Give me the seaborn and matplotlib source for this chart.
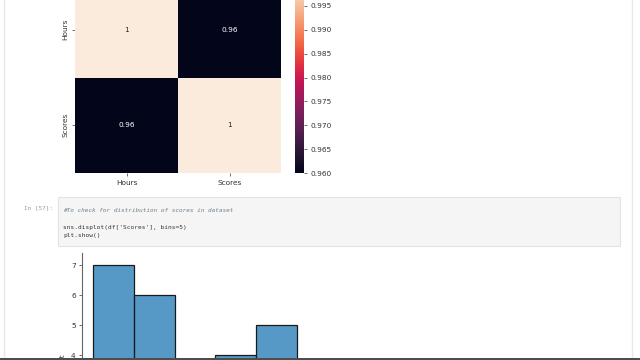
import numpy as np
import pandas as pd
import seaborn as sns
import matplotlib
matplotlib.use("Agg")
import matplotlib.pyplot as plt
from matplotlib.patches import Rectangle
from matplotlib.lines import Line2D

# ---- data ----
corr_labels = ["Hours", "Scores"]
corr_hours = [1.0, 0.9601]
corr_scores = [0.9601, 1.0]

hist_bin_edges = [17.0, 32.6, 48.2, 63.8, 79.4, 95.0]
hist_counts = [7, 6, 3, 4, 5]
hist_yticks = [4, 5, 6, 7]

cbar_ticks = [0.960, 0.965, 0.970, 0.975, 0.980, 0.985, 0.990, 0.995]

cell_prompt = "In [57]:"
code_comment = "#To check for distribution of scores in dataset"
code_lines = ["sns.displot(df['Scores'], bins=5)", "plt.show()"]

sns.set_style("white")
plt.rcParams["font.family"] = ["DejaVu Sans"]

W, H = 640, 360
fig = plt.figure(figsize=(6.4, 3.6), dpi=100)
fig.patch.set_facecolor("white")


def px_axes(l, t, r, b):
    return fig.add_axes([l / W, 1 - b / H, (r - l) / W, (b - t) / H])


def fx(x):
    return x / W


def fy(y):
    return 1 - y / H


FS = 5.3

# ---- heatmap ----
corr = pd.DataFrame({"Hours": corr_hours, "Scores": corr_scores}, index=corr_labels)
ax_hm = px_axes(75, -18, 281, 173)
ax_cb = px_axes(295, -18, 304, 173)
sns.heatmap(corr, annot=True, ax=ax_hm, cbar_ax=ax_cb,
            vmin=0.96, vmax=1.0, annot_kws={"fontsize": FS})
ax_hm.tick_params(axis="both", labelsize=FS, length=2.5, width=0.6,
                  color="#555555", labelcolor="#333333", pad=2.5,
                  left=True, bottom=True)
for t in ax_hm.get_yticklabels():
    t.set_rotation(90)
    t.set_va("center")
ax_cb.set_yticks(cbar_ticks)
ax_cb.set_yticklabels([f"{v:.3f}" for v in cbar_ticks])
ax_cb.tick_params(labelsize=FS, length=2.5, width=0.6, color="#555555",
                  labelcolor="#333333", pad=2)
for s in ax_cb.spines.values():
    s.set_visible(False)

# ---- notebook chrome ----
fig.add_artist(Line2D([fx(4), fx(4)], [0, 1], color="#e8e8e8", lw=1.0))
fig.add_artist(Line2D([fx(632), fx(632)], [0, 1], color="#e8e8e8", lw=1.0))
fig.add_artist(Rectangle((fx(58), fy(246)), fx(620) - fx(58), fy(197) - fy(246),
                         facecolor="#f5f5f5", edgecolor="#e3e3e3", lw=0.8))
fig.text(fx(53), fy(208), cell_prompt, fontsize=4.3, color="#9a9a9a",
         family="DejaVu Sans Mono", ha="right", va="center")
fig.text(fx(63), fy(210), code_comment, fontsize=4.3, color="#6f7f8a",
         family="DejaVu Sans Mono", style="italic", va="center")
fig.text(fx(63), fy(227), code_lines[0], fontsize=4.4, color="#333333",
         family="DejaVu Sans Mono", va="center")
fig.text(fx(63), fy(236), code_lines[1], fontsize=4.4, color="#333333",
         family="DejaVu Sans Mono", va="center")

# ---- histogram ----
centers = [(a + b) / 2 for a, b in zip(hist_bin_edges[:-1], hist_bin_edges[1:])]
hist_df = pd.DataFrame({"Scores": centers, "n": hist_counts})
ax_h = px_axes(82, 253, 308, 475)
sns.histplot(data=hist_df, x="Scores", weights="n", bins=list(hist_bin_edges),
             ax=ax_h, color="#1f77b4", alpha=0.75, edgecolor="#1a1a1a",
             linewidth=0.9)
ax_h.set_xlim(12.8, 99.2)
ax_h.set_ylim(0, 7.4)
ax_h.set_yticks(hist_yticks)
ax_h.set_xticks([])
ax_h.set_xlabel("")
ax_h.set_ylabel("Count", fontsize=FS, labelpad=4, color="#333333")
ax_h.tick_params(axis="y", labelsize=FS, length=2.5, width=0.6, color="#555555",
                 labelcolor="#333333", pad=2, left=True)
sns.despine(ax=ax_h)
ax_h.spines["left"].set_color("#666666")
ax_h.spines["left"].set_linewidth(0.8)

# bottom dark strip
fig.add_artist(Rectangle((0, 0), 1, fy(357.5), facecolor="#4d4d4d",
                         edgecolor="none", zorder=10))

fig.savefig("out.png", dpi=100)
